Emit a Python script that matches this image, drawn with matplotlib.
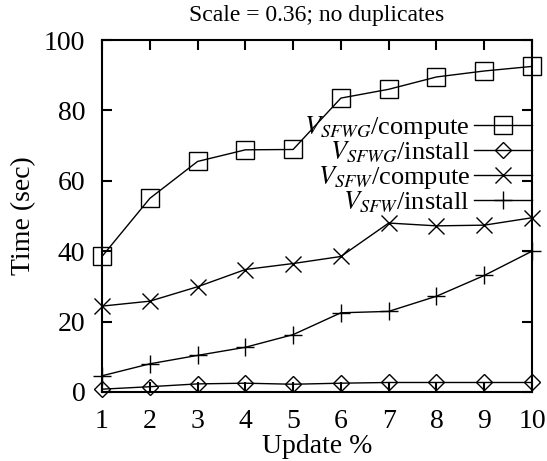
import matplotlib
matplotlib.use("Agg")
import matplotlib.pyplot as plt

# values
update_pct = [1, 2, 3, 4, 5, 6, 7, 8, 9, 10]
sfwg_compute = [38.5, 55.0, 65.5, 68.8, 68.9, 83.5, 86.0, 89.5, 91.2, 92.5]
sfwg_install = [0.8, 1.5, 2.3, 2.5, 2.2, 2.5, 2.7, 2.7, 2.7, 2.7]
sfw_compute = [24.4, 25.8, 29.9, 34.8, 36.5, 38.5, 48.0, 47.2, 47.4, 49.5]
sfw_install = [4.6, 8.0, 10.4, 12.7, 16.3, 22.5, 22.9, 27.2, 33.1, 40.0]

labels = [r"$V_{SFWG}$/compute", r"$V_{SFWG}$/install",
          r"$V_{SFW}$/compute", r"$V_{SFW}$/install"]

plt.rcParams["font.family"] = "Liberation Serif"
plt.rcParams["mathtext.fontset"] = "stix"

fig = plt.figure(figsize=(5.47, 4.61), dpi=100)
ax = fig.add_axes([0.1865, 0.1497, 0.7861, 0.7635])

style = dict(color="black", linewidth=1.0, markerfacecolor="none",
             markeredgecolor="black", markeredgewidth=1.0, clip_on=False)
ax.plot(update_pct, sfwg_compute, marker="s", markersize=12.5, label=labels[0], **style)
ax.plot(update_pct, sfwg_install, marker="D", markersize=8, label=labels[1], **style)
ax.plot(update_pct, sfw_compute, marker="x", markersize=12, label=labels[2], **style)
ax.plot(update_pct, sfw_install, marker="+", markersize=13, label=labels[3], **style)

ax.set_xlim(1, 10)
ax.set_ylim(0, 100)
ax.set_xticks(update_pct)
ax.set_yticks([0, 20, 40, 60, 80, 100])
ax.tick_params(direction="in", length=7, width=1.5, top=True, right=True,
               labelsize=20, pad=12)
for s in ax.spines.values():
    s.set_linewidth(1.5)

ax.set_xlabel("Update %", fontsize=20, labelpad=0)
ax.set_ylabel("Time (sec)", fontsize=20, labelpad=6)
ax.set_title("Scale = 0.36; no duplicates", fontsize=17, pad=14)

ax.legend(loc="upper right", bbox_to_anchor=(1.0, 0.79), frameon=False,
          markerfirst=False, fontsize=19, handlelength=2.2, handletextpad=0.15,
          labelspacing=-0.05, borderpad=0.0, borderaxespad=0.0)

fig.savefig("out.png", dpi=100)
